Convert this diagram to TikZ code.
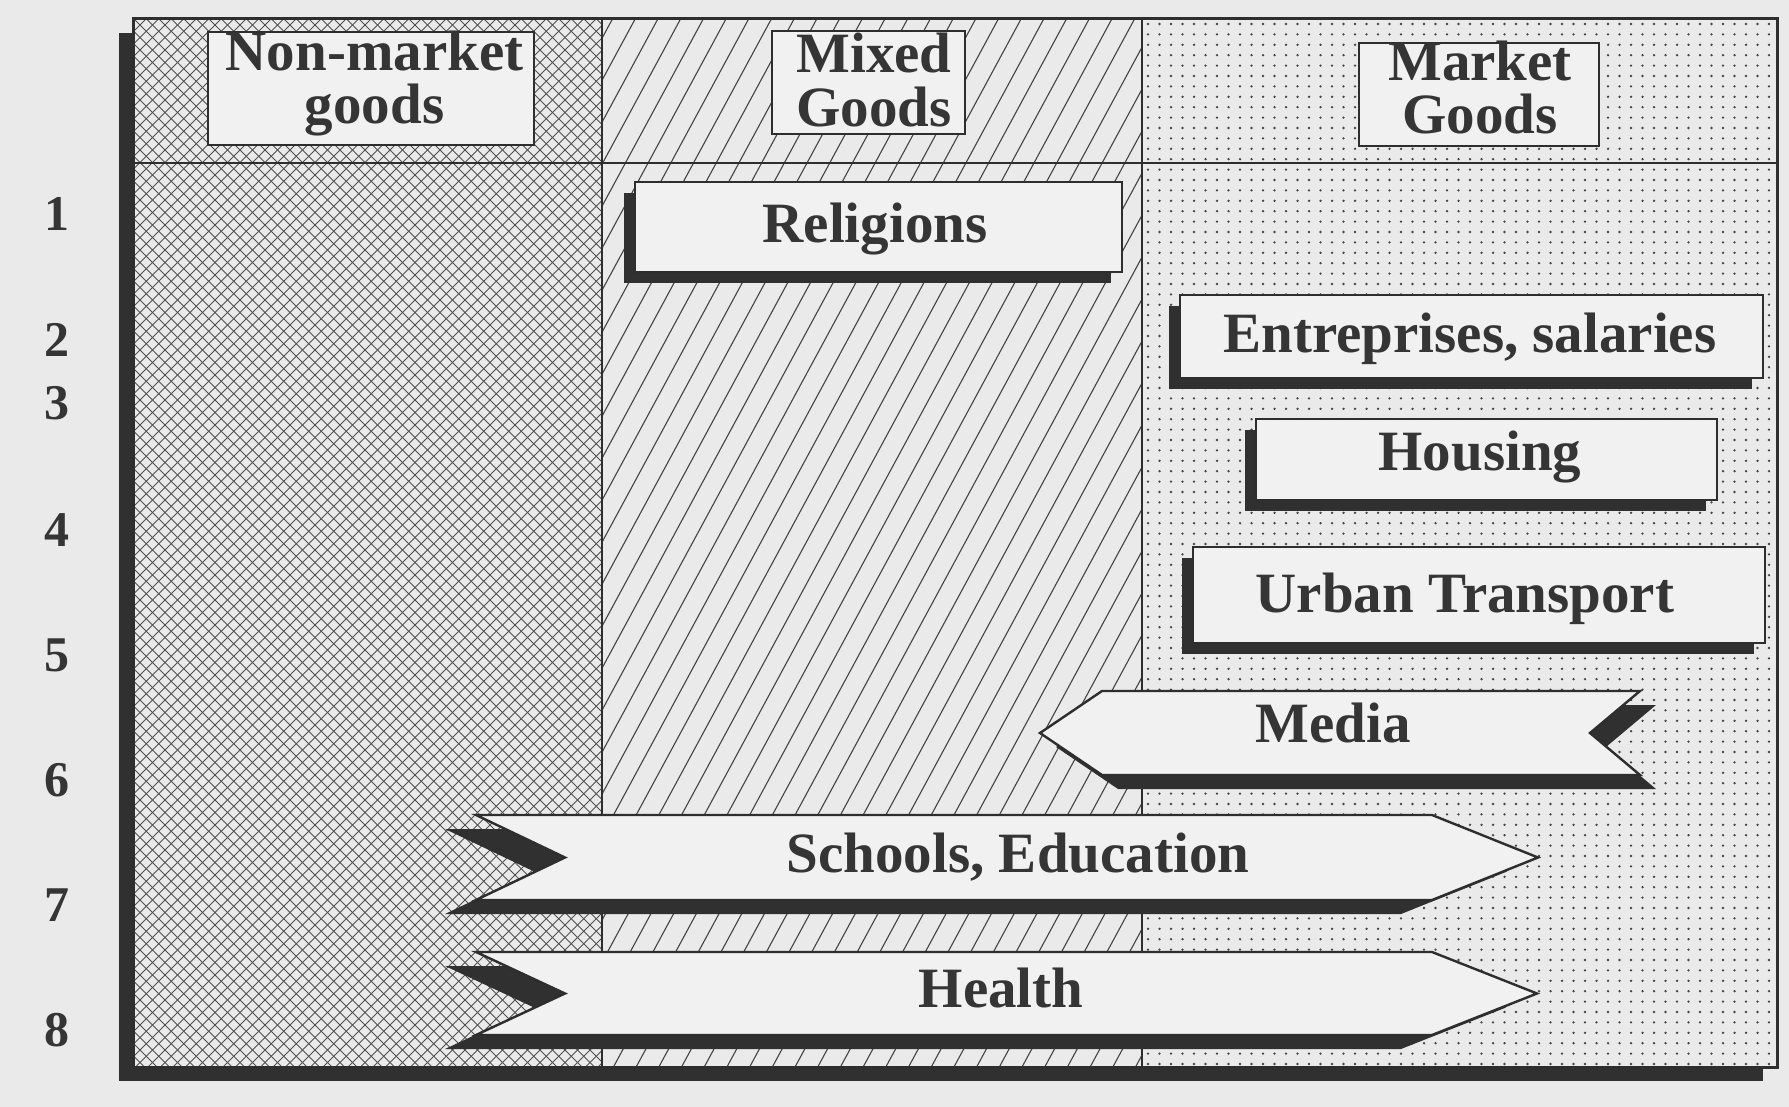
\documentclass[tikz,border=0pt]{standalone}
\usepackage{fontspec}
\setmainfont{Liberation Serif}
\usetikzlibrary{shadows}
\definecolor{paper}{HTML}{EAEAEA}
\definecolor{boxfill}{HTML}{F1F1F1}
\definecolor{ink}{HTML}{2E2E2E}
\definecolor{shadowc}{HTML}{303030}
\definecolor{txt}{HTML}{353535}
\definecolor{hatchc}{HTML}{444444}
\definecolor{xhatchc}{HTML}{505050}
\begin{document}
\begin{tikzpicture}[x=0.5pt,y=-0.5pt,
  every node/.style={inner sep=0pt, outer sep=0pt},
  lbl/.style={font=\fontsize{28.5}{30}\selectfont\bfseries, text=txt, anchor=base},
  numlbl/.style={font=\fontsize{25}{27}\selectfont\bfseries, text=txt, anchor=base},
  hbox/.style={draw=ink, line width=1pt, fill=boxfill, rectangle},
  rbox/.style={draw=ink, line width=1.4pt, fill=boxfill, rectangle,
     general shadow={fill=shadowc, shadow xshift=-5.5pt, shadow yshift=-5.5pt}},
  arrowbody/.style={draw=ink, line width=1.2pt, fill=boxfill, line join=miter},
  arrowshade/.style={fill=shadowc},
  xhatch/.style={draw=xhatchc, line width=0.5pt},
  dhatch/.style={draw=hatchc, line width=0.55pt},
]
\useasboundingbox (0,0) rectangle (1789,1107);
\fill[paper] (0,0) rectangle (1789,1107);
% frame shadow and body
\fill[shadowc] (119,33) rectangle (1763,1081);
\fill[paper] (133,19) rectangle (1777,1067);
% column 1: cross hatch
\begin{scope}
  \clip (133,19) rectangle (602,1067);
  \foreach \i in {0,...,126} {
    \draw[xhatch] (140+\i*12.5,0) -- ++(-1100,1100);
    \draw[xhatch] (-960+\i*12.5,0) -- ++(1100,1100);
  }
\end{scope}
% column 2: diagonal hatch
\begin{scope}
  \clip (602,19) rectangle (1142,1067);
  \foreach \i in {0,...,52} {
    \draw[dhatch] (600+\i*22.7,0) -- ++(-594.6,1100);
  }
\end{scope}
% column 3: dots
\begin{scope}
  \clip (1142,19) rectangle (1777,1067);
  \foreach \i in {0,...,55} {
    \fill[hatchc] \foreach \j in {0,...,101} { (1148+\i*11.5,24+\j*10.4) circle (1.3) };
  }
\end{scope}
% grid lines
\draw[ink, line width=1.2pt] (133,163) -- (1777,163);
\draw[ink, line width=1.1pt] (602,19) -- (602,1067);
\draw[ink, line width=1.1pt] (1142,19) -- (1142,1067);
\draw[ink, line width=1.5pt] (133,19) rectangle (1777,1067);
% header boxes
\node[hbox, minimum width=163pt, minimum height=56.5pt] (nmbox) at (371,88.5) {};
\node[hbox, minimum width=96.5pt, minimum height=51.5pt] (mxbox) at (868.5,82.5) {};
\node[hbox, minimum width=120pt, minimum height=51.5pt] (mkbox) at (1479,94.5) {};
\node[lbl] (nm1) at (374.5,71) {Non-market};
\node[lbl] (nm2) at (374.5,124) {goods};
\node[lbl] (mx1) at (874,73) {Mixed};
\node[lbl] (mx2) at (874,127) {Goods};
\node[lbl] (mk1) at (1480,81) {Market};
\node[lbl] (mk2) at (1480,134) {Goods};
% row boxes
\node[rbox, minimum width=243.5pt, minimum height=45pt] (relbox) at (878.5,227) {};
\node[rbox, minimum width=291.5pt, minimum height=41.5pt] (entbox) at (1471.5,336.5) {};
\node[rbox, minimum width=230.5pt, minimum height=40.5pt] (houbox) at (1486.5,459.5) {};
\node[rbox, minimum width=286pt, minimum height=48pt] (urbbox) at (1479,595) {};
\node[lbl] (rel) at (875,243) {Religions};
\node[lbl] (ent) at (1470,352) {Entreprises, salaries};
\node[lbl] (hou) at (1480,470) {Housing};
\node[lbl] (urb) at (1465,612) {Urban Transport};
% Media arrow (points left)
\begin{scope}[shift={(16,14)}]
  \fill[arrowshade] (1040,733) -- (1102,691) -- (1640,691) -- (1590,733) -- (1640,775) -- (1102,775) -- cycle;
\end{scope}
\draw[arrowbody] (1040,733) -- (1102,691) -- (1640,691) -- (1590,733) -- (1640,775) -- (1102,775) -- cycle;
\node[lbl] (med) at (1333,742) {Media};
% Schools arrow (points right)
\begin{scope}[shift={(-31,14)}]
  \fill[arrowshade] (476,815) -- (565,857.5) -- (476,900) -- (1432,900) -- (1538,857.5) -- (1432,815) -- cycle;
\end{scope}
\draw[arrowbody] (476,815) -- (565,857.5) -- (476,900) -- (1432,900) -- (1538,857.5) -- (1432,815) -- cycle;
\node[lbl] (sch) at (1018,872) {Schools, Education};
% Health arrow (points right)
\begin{scope}[shift={(-31,14)}]
  \fill[arrowshade] (476,952) -- (565,993.5) -- (476,1035) -- (1432,1035) -- (1537,993.5) -- (1432,952) -- cycle;
\end{scope}
\draw[arrowbody] (476,952) -- (565,993.5) -- (476,1035) -- (1432,1035) -- (1537,993.5) -- (1432,952) -- cycle;
\node[lbl] (hea) at (1001,1007) {Health};
% row numbers
\node[numlbl] (n1) at (57,231) {1};
\node[numlbl] (n2) at (57,357) {2};
\node[numlbl] (n3) at (57,419) {3};
\node[numlbl] (n4) at (57,546) {4};
\node[numlbl] (n5) at (57,671) {5};
\node[numlbl] (n6) at (57,796) {6};
\node[numlbl] (n7) at (57,921) {7};
\node[numlbl] (n8) at (57,1046) {8};
\end{tikzpicture}
\end{document}
